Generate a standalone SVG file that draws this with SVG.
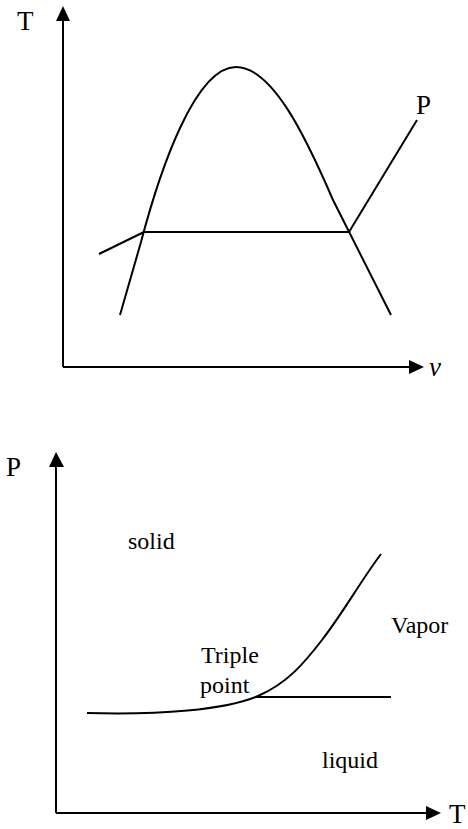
<svg xmlns="http://www.w3.org/2000/svg" width="468" height="829" viewBox="0 0 468 829">
<style>
.ln{fill:none;stroke:#000;stroke-width:2}
.ax{font-family:"Liberation Serif","Times New Roman",serif;font-size:27px;fill:#000}
.lb{font-family:"Liberation Serif","Times New Roman",serif;font-size:24px;fill:#000}
</style>
<rect width="468" height="829" fill="#fff"/>
<g id="connectors">
<!-- top T-v diagram -->
<path class="ln" d="M63,367 V18 M63,367 H411"/>
<polygon points="63,6 56,21 70,21"/>
<polygon points="424,367 409,360 409,374"/>
<path class="ln" d="M120,315 L141,242 C160,170 195,67 236,67 C272,67 305,135 333,200 L391,315"/>
<path class="ln" d="M144,232 H349"/>
<path class="ln" d="M99,254 L144,232"/>
<path class="ln" d="M349,232 L417,120"/>
<!-- bottom P-T diagram -->
<path class="ln" d="M56,813 V465 M56,813 H428"/>
<polygon points="56,452 49,467 64,467"/>
<polygon points="441,813 426,806 426,820"/>
<path class="ln" d="M87,713 C160,715 225,710 258,696 C288,683 305,662 322,640 C345,610 360,582 381,554"/>
<path class="ln" d="M256,697 H391"/>
</g>
<g id="labels">
<text class="ax" x="17" y="30">T</text>
<text class="ax" x="416" y="114">P</text>
<text class="ax" x="429" y="376" font-style="italic">v</text>
<text class="ax" x="6" y="476">P</text>
<text class="ax" x="449" y="823" font-size="25">T</text>
<text class="lb" x="128" y="549">solid</text>
<text class="lb" x="391" y="633">Vapor</text>
<text class="lb" x="201" y="663">Triple</text>
<text class="lb" x="200" y="693">point</text>
<text class="lb" x="322" y="768">liquid</text>
</g>
</svg>
